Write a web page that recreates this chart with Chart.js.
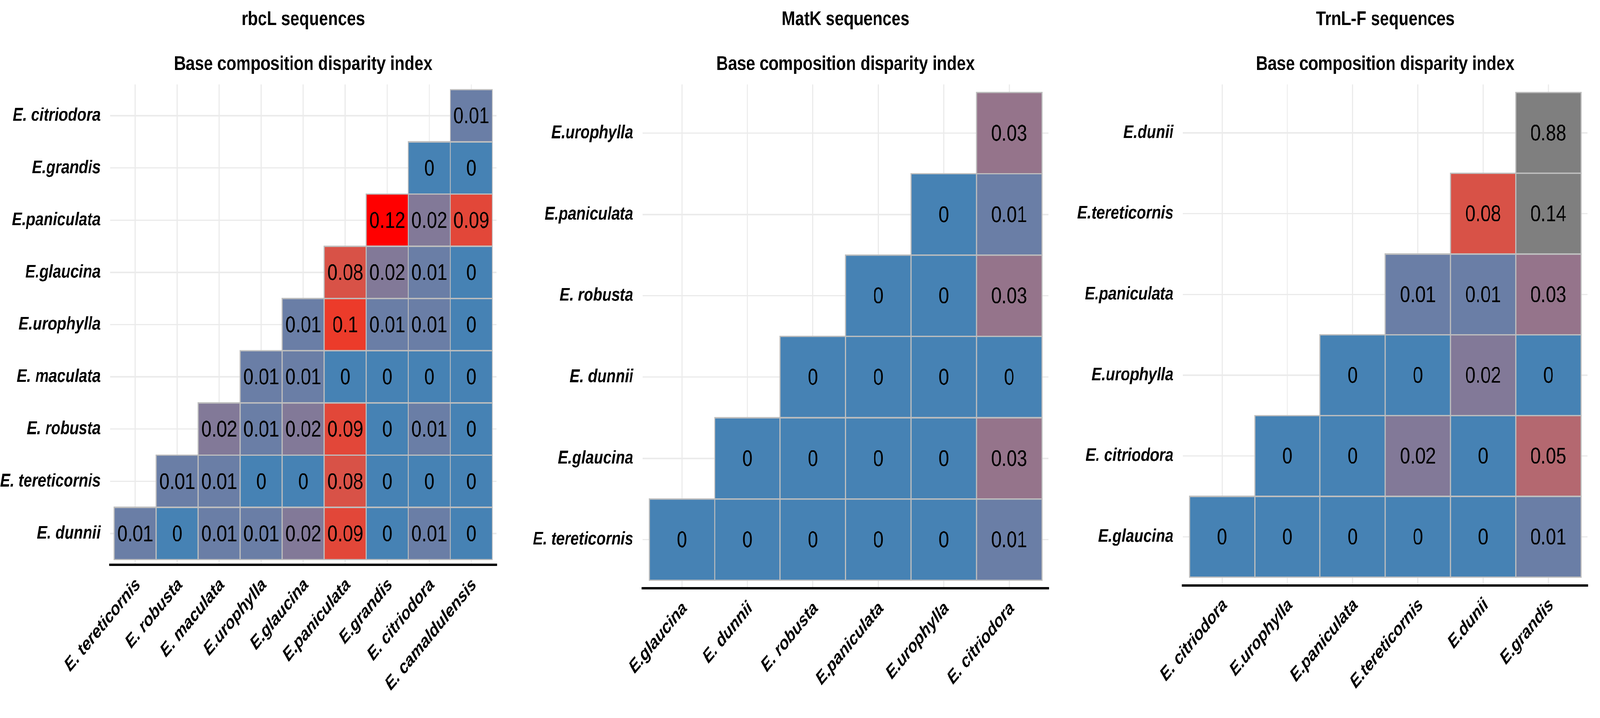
<!DOCTYPE html>
<html>
<head>
<meta charset="utf-8">
<script src="https://cdn.jsdelivr.net/npm/chart.js@4.4.1/dist/chart.umd.min.js"></script>
<style>
  html, body { margin: 0; padding: 0; background: #fff; overflow: hidden; }
  /* the original figure is stretched vertically, so the whole drawing is too */
  #fig { position: absolute; left: 0; top: 0; width: 4247px; height: 1506px;
         transform: scale(1, 1.21978); transform-origin: 0 0; }
  #fig canvas { position: absolute; top: 0; }
</style>
</head>
<body>
<div id="fig">
  <canvas id="rbcl" width="1380" height="1506" style="left:0px"></canvas>
  <canvas id="matk" width="1450" height="1506" style="left:1380px"></canvas>
  <canvas id="trnl" width="1417" height="1506" style="left:2830px"></canvas>
</div>
<script>
// rbcL panel
const rbclCols = ['E. tereticornis', 'E. robusta', 'E. maculata', 'E.urophylla', 'E.glaucina',
                  'E.paniculata', 'E.grandis', 'E. citriodora', 'E. camaldulensis'];
const rbclRows = ['E. citriodora', 'E.grandis', 'E.paniculata', 'E.glaucina', 'E.urophylla',
                  'E. maculata', 'E. robusta', 'E. tereticornis', 'E. dunnii'];
const rbclValues = [
  [null, null, null, null, null, null, null, null, 0.01],
  [null, null, null, null, null, null, null, 0, 0],
  [null, null, null, null, null, null, 0.12, 0.02, 0.09],
  [null, null, null, null, null, 0.08, 0.02, 0.01, 0],
  [null, null, null, null, 0.01, 0.1, 0.01, 0.01, 0],
  [null, null, null, 0.01, 0.01, 0, 0, 0, 0],
  [null, null, 0.02, 0.01, 0.02, 0.09, 0, 0.01, 0],
  [null, 0.01, 0.01, 0, 0, 0.08, 0, 0, 0],
  [0.01, 0, 0.01, 0.01, 0.02, 0.09, 0, 0.01, 0]
];

// MatK panel
const matkCols = ['E.glaucina', 'E. dunnii', 'E. robusta', 'E.paniculata', 'E.urophylla', 'E. citriodora'];
const matkRows = ['E.urophylla', 'E.paniculata', 'E. robusta', 'E. dunnii', 'E.glaucina', 'E. tereticornis'];
const matkValues = [
  [null, null, null, null, null, 0.03],
  [null, null, null, null, 0, 0.01],
  [null, null, null, 0, 0, 0.03],
  [null, null, 0, 0, 0, 0],
  [null, 0, 0, 0, 0, 0.03],
  [0, 0, 0, 0, 0, 0.01]
];

// TrnL-F panel
const trnlCols = ['E. citriodora', 'E.urophylla', 'E.paniculata', 'E.tereticornis', 'E.dunii', 'E.grandis'];
const trnlRows = ['E.dunii', 'E.tereticornis', 'E.paniculata', 'E.urophylla', 'E. citriodora', 'E.glaucina'];
const trnlValues = [
  [null, null, null, null, null, 0.88],
  [null, null, null, null, 0.08, 0.14],
  [null, null, null, 0.01, 0.01, 0.03],
  [null, null, 0, 0, 0.02, 0],
  [null, 0, 0, 0.02, 0, 0.05],
  [0, 0, 0, 0, 0, 0.01]
];

const subtitleText = 'Base composition disparity index';
const FONT = '"Liberation Sans", Arial, sans-serif';

// fit the 4247-wide drawing to the real viewport width, same factor both ways
const fig = document.getElementById('fig');
const s = (window.innerWidth || 4247) / 4247;
fig.style.transform = 'scale(' + s + ',' + (s * 1837 / 1506) + ')';

// colour scale: steelblue -> red in Lab over 0..0.12, grey50 above
const SCALE_MAX = 0.12;

function toLab(hex) {
  const c = [1, 3, 5].map(i => parseInt(hex.substr(i, 2), 16) / 255)
    .map(v => v <= 0.04045 ? v / 12.92 : Math.pow((v + 0.055) / 1.055, 2.4));
  const x = (0.4124 * c[0] + 0.3576 * c[1] + 0.1805 * c[2]) / 0.95047;
  const y = 0.2126 * c[0] + 0.7152 * c[1] + 0.0722 * c[2];
  const z = (0.0193 * c[0] + 0.1192 * c[1] + 0.9505 * c[2]) / 1.08883;
  const f = t => t > 0.008856 ? Math.cbrt(t) : 7.787 * t + 16 / 116;
  return [116 * f(y) - 16, 500 * (f(x) - f(y)), 200 * (f(y) - f(z))];
}

function fromLab(L, a, b) {
  const fy = (L + 16) / 116, fx = fy + a / 500, fz = fy - b / 200;
  const inv = t => t * t * t > 0.008856 ? t * t * t : (t - 16 / 116) / 7.787;
  const x = inv(fx) * 0.95047, y = inv(fy), z = inv(fz) * 1.08883;
  const lin = [
    3.2406 * x - 1.5372 * y - 0.4986 * z,
    -0.9689 * x + 1.8758 * y + 0.0415 * z,
    0.0557 * x - 0.2040 * y + 1.0570 * z
  ];
  const rgb = lin.map(v => {
    const s = v <= 0.0031308 ? 12.92 * v : 1.055 * Math.pow(v, 1 / 2.4) - 0.055;
    return Math.round(Math.min(1, Math.max(0, s)) * 255);
  });
  return 'rgb(' + rgb.join(',') + ')';
}

const lowLab = toLab('#4682B4');
const highLab = toLab('#FF0000');

function fillFor(v) {
  if (v > SCALE_MAX + 1e-9) return '#7F7F7F';
  const t = v / SCALE_MAX;
  return fromLab(
    lowLab[0] + (highLab[0] - lowLab[0]) * t,
    lowLab[1] + (highLab[1] - lowLab[1]) * t,
    lowLab[2] + (highLab[2] - lowLab[2]) * t
  );
}

// writes the value inside each tile
const cellLabels = {
  id: 'cellLabels',
  afterDatasetsDraw(chart) {
    const ctx = chart.ctx;
    const meta = chart.getDatasetMeta(0);
    const data = chart.data.datasets[0].data;
    ctx.save();
    ctx.font = '49px ' + FONT;
    ctx.fillStyle = '#000';
    ctx.textAlign = 'center';
    ctx.textBaseline = 'middle';
    meta.data.forEach((bar, i) => {
      const p = bar.getCenterPoint();
      ctx.fillText(String(data[i].v), p.x, p.y + 3);
    });
    ctx.restore();
  }
};

function heatmap(id, title, cols, rows, values, area) {
  const cells = [];
  const colors = [];
  values.forEach((row, r) => row.forEach((v, c) => {
    if (v === null) return;
    cells.push({ x: c, y: [r - 0.5, r + 0.5], v: v });
    colors.push(fillFor(v));
  }));

  const canvas = document.getElementById(id);
  const W = canvas.width, H = canvas.height;
  // axis boxes reach the canvas edges so that no label gets clipped
  const YW = area.left, XH = H - area.bottom;
  const tickFont = { family: FONT, size: 40, style: 'italic', weight: 'bold' };
  const gridOpts = { color: '#ebebeb', lineWidth: 3, drawTicks: false, offset: false };

  return new Chart(canvas, {
    type: 'bar',
    data: {
      datasets: [{
        data: cells,
        backgroundColor: colors,
        borderColor: '#bebebe',
        borderWidth: 3,
        borderSkipped: false,
        inflateAmount: 1.5,
        barPercentage: 1,
        categoryPercentage: 1
      }]
    },
    options: {
      responsive: false,
      animation: false,
      devicePixelRatio: 2,
      layout: {
        padding: { left: 0, right: W - area.right, top: 0, bottom: 0 }
      },
      plugins: {
        legend: { display: false },
        tooltip: { enabled: false },
        title: {
          display: true, text: title, fullSize: false, color: '#000',
          font: { family: FONT, size: 43, weight: 'bold', lineHeight: 1.2 },
          padding: { top: 17, bottom: 0 }
        },
        subtitle: {
          display: true, text: subtitleText, fullSize: false, color: '#000',
          font: { family: FONT, size: 43, weight: 'bold', lineHeight: 1.2 },
          padding: { top: 45.6, bottom: 17.7 }
        }
      },
      scales: {
        x: {
          type: 'linear',
          min: -0.6,
          max: cols.length - 0.4,
          offset: false,
          afterBuildTicks: s => { s.ticks = cols.map((_, i) => ({ value: i })); },
          afterFit: s => { s.height = XH; },
          grid: gridOpts,
          border: { display: true, color: '#000', width: 5 },
          ticks: {
            autoSkip: false, minRotation: 45, maxRotation: 45, padding: 20, labelOffset: 8,
            color: '#000', font: tickFont,
            callback: v => cols[v]
          }
        },
        y: {
          type: 'linear',
          reverse: true,
          min: -0.6,
          max: rows.length - 0.4,
          afterBuildTicks: s => { s.ticks = rows.map((_, i) => ({ value: i })); },
          afterFit: s => { s.width = YW; },
          grid: gridOpts,
          border: { display: false },
          ticks: {
            autoSkip: false, padding: 25,
            color: '#000', font: tickFont,
            callback: v => rows[v]
          }
        }
      }
    },
    plugins: [cellLabels]
  });
}

heatmap('rbcl', 'rbcL sequences', rbclCols, rbclRows, rbclValues, { left: 292, right: 1318, bottom: 1228.5 });
heatmap('matk', 'MatK sequences', matkCols, matkRows, matkValues, { left: 326, right: 1403, bottom: 1279.7 });
heatmap('trnl', 'TrnL-F sequences', trnlCols, trnlRows, trnlValues, { left: 310, right: 1384, bottom: 1272.8 });
</script>
</body>
</html>
